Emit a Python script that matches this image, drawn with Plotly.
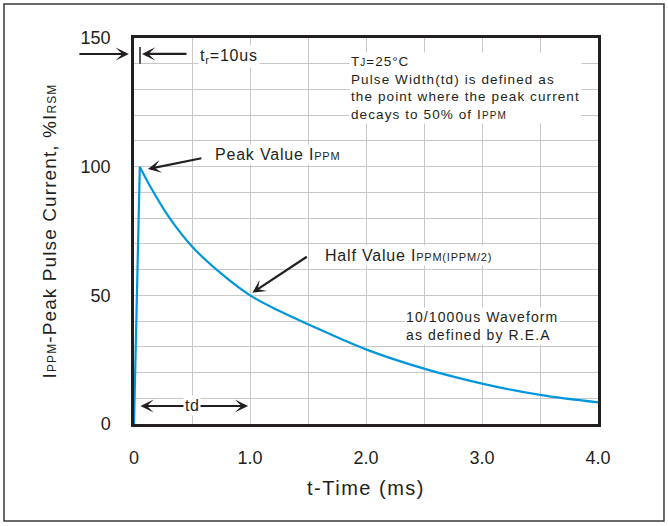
import plotly.graph_objects as go

# ---- data ----
rise_t = [0.0, 0.05]
rise_v = [0.0, 100.0]
decay_t = [0.05, 0.15, 0.30, 0.50, 0.75, 1.0, 1.25, 1.5, 2.0, 2.5, 3.0, 3.5, 4.0]
decay_v = [100.0, 91.5, 80.5, 69.0, 58.5, 50.0, 44.0, 38.8, 29.0, 21.5, 15.7, 11.3, 8.4]

# grid positions and their labels (blank where the reference shows only a grid line)
x_tickvals = [0, 0.5, 1, 1.5, 2, 2.5, 3, 3.5, 4]
x_ticktext = ["0", "", "1.0", "", "2.0", "", "3.0", "", "4.0"]
y_tickvals = [0, 10, 20, 30, 40, 50, 60, 70, 80, 90, 100, 110, 120, 130, 140, 150]
y_ticktext = ["0", "", "", "", "", "50", "", "", "", "", "100", "", "", "", "", "150"]

FONT = "Liberation Sans, Arial, sans-serif"
TXT = "#231f20"
BLUE = "#0096dc"
GRID = "#c8c8c8"


def ls(s, px=1.0):
    return f'<span style="letter-spacing:{px}px">{s}</span>'


def small(s, size):
    return f'<span style="font-size:{size}px">{s}</span>'


fig = go.Figure()
fig.add_trace(go.Scatter(x=rise_t, y=rise_v, mode="lines",
                         line=dict(color=BLUE, width=2.2), showlegend=False,
                         hoverinfo="skip", cliponaxis=False))
fig.add_trace(go.Scatter(x=decay_t, y=decay_v, mode="lines",
                         line=dict(color=BLUE, width=2.2, shape="spline", smoothing=1.0),
                         showlegend=False, hoverinfo="skip", cliponaxis=False))

ytitle = ls("I" + small("PPM", 12) + "-Peak Pulse Current, %I" + small("RSM", 12), 1.1)
xtitle = ls("t-Time (ms)", 1.5)

fig.update_layout(
    width=668, height=526,
    margin=dict(l=134, r=70, t=38, b=102, pad=0),
    paper_bgcolor="white", plot_bgcolor="white",
    font=dict(family=FONT, color=TXT, size=18),
    xaxis=dict(range=[0, 4], tickmode="array", tickvals=x_tickvals, ticktext=x_ticktext,
               showgrid=True, gridcolor=GRID, gridwidth=1,
               showline=True, mirror=True, linecolor=TXT, linewidth=2.5,
               ticks="", ticklabelstandoff=16, zeroline=False,
               tickfont=dict(size=18, color=TXT),
               title=dict(text=xtitle, font=dict(size=20, color=TXT), standoff=14)),
    yaxis=dict(range=[0, 150], tickmode="array", tickvals=y_tickvals, ticktext=y_ticktext,
               showgrid=True, gridcolor=GRID, gridwidth=1,
               showline=True, mirror=True, linecolor=TXT, linewidth=2.5,
               ticks="", ticklabelstandoff=17, zeroline=False,
               tickfont=dict(size=18, color=TXT),
               title=dict(text=ytitle, font=dict(size=19, color=TXT), standoff=19)),
)

# outer border of the whole picture
fig.add_shape(type="rect", xref="paper", yref="paper",
              x0=-0.2802, x1=1.1422, y0=-0.2513, y1=1.0881,
              line=dict(color="#3a3a3a", width=1.5), fillcolor="rgba(0,0,0,0)", layer="above")

# small tr marker line
fig.add_shape(type="line", xref="x", yref="y", x0=0.052, x1=0.052, y0=140, y1=146.5,
              line=dict(color=TXT, width=1.5))

arrow = dict(showarrow=True, arrowhead=3, arrowsize=1.0, arrowwidth=2.2,
             arrowcolor=TXT, text="")

# arrow from the left, pointing to the frame near 150
fig.add_annotation(xref="paper", yref="paper", x=-0.011, y=0.9585, ax=-51, ay=0, **arrow)
# tr arrow
fig.add_annotation(xref="x", yref="y", x=0.069, y=143.8, ax=46, ay=0, **arrow)
# peak arrow
fig.add_annotation(xref="x", yref="y", x=0.12, y=99.1, ax=55, ay=-11, **arrow)
# half arrow
fig.add_annotation(xref="x", yref="y", x=1.02, y=51.0, ax=56, ay=-37, **arrow)
# td double arrow
fig.add_annotation(xref="x", yref="y", x=0.983, y=7.0, axref="x", ayref="y", ax=0.043, ay=7.0,
                   arrowside="end+start", startarrowhead=3, startarrowsize=1.0, **arrow)

txt = dict(showarrow=False, bgcolor="white", borderpad=1)

fig.add_annotation(xref="x", yref="y", x=0.552, y=143.0, xanchor="left", yanchor="middle",
                   text=ls("t" + "<sub>r</sub>" + "=10us", 0.8),
                   font=dict(family=FONT, color=TXT, size=16), **txt)
fig.add_annotation(xref="x", yref="y", x=1.853, y=144.5, xanchor="left", yanchor="top", align="left",
                   text="<br>".join([
                       ls("T" + small("J", 10) + "=25°C", 1.0),
                       ls("Pulse Width(td) is defined as", 1.1),
                       ls("the point where the peak current", 1.1),
                       ls("decays to 50% of I" + small("PPM", 10), 1.1),
                   ]),
                   font=dict(family=FONT, color=TXT, size=13.5), **txt)
fig.add_annotation(xref="x", yref="y", x=0.681, y=104.9, xanchor="left", yanchor="middle",
                   text=ls("Peak Value I" + small("PPM", 11), 0.8),
                   font=dict(family=FONT, color=TXT, size=16), **txt)
fig.add_annotation(xref="x", yref="y", x=1.629, y=65.3, xanchor="left", yanchor="middle",
                   text=ls("Half Value I" + small("PPM(IPPM/2)", 11), 0.8),
                   font=dict(family=FONT, color=TXT, size=16), **txt)
fig.add_annotation(xref="x", yref="y", x=2.33, y=45.5, xanchor="left", yanchor="top", align="left",
                   text=ls("10/1000us Waveform", 1.1) + "<br>" + ls("as defined by R.E.A", 1.1),
                   font=dict(family=FONT, color=TXT, size=14), **txt)
fig.add_annotation(xref="x", yref="y", x=0.5, y=7.0, xanchor="center", yanchor="middle",
                   text=ls("td", 0.5),
                   font=dict(family=FONT, color=TXT, size=16), **txt)

fig.write_html("out.html")
